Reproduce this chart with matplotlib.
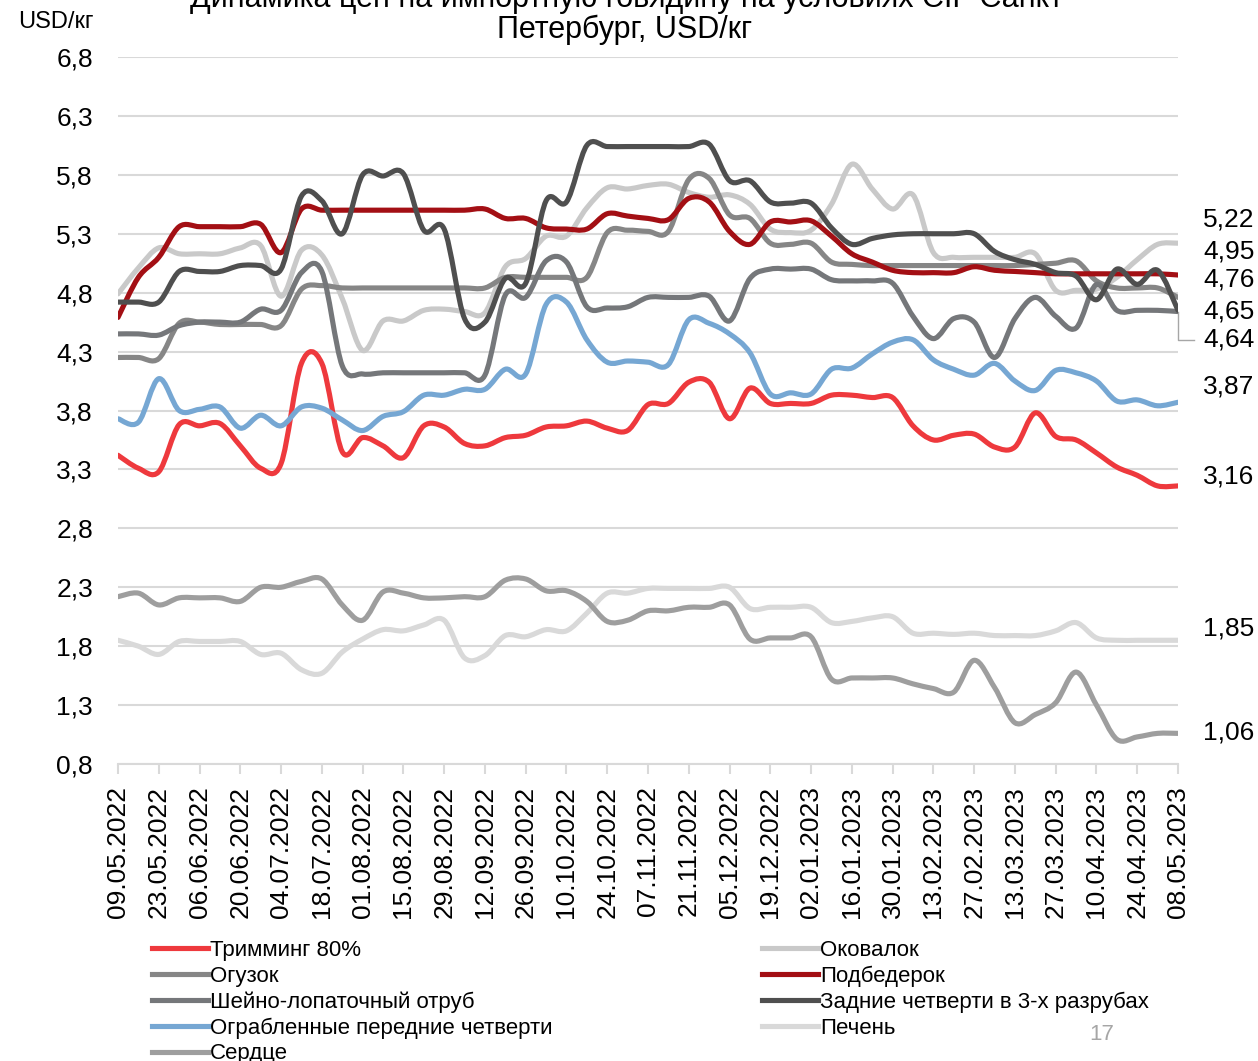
import numpy as np
import matplotlib
matplotlib.use("Agg")
import matplotlib.pyplot as plt
from matplotlib.path import Path
from matplotlib.patches import PathPatch
from matplotlib.lines import Line2D

plt.rcParams['font.family'] = ['Liberation Sans', 'DejaVu Sans']

# weekly prices, 09.05.2022 - 08.05.2023, USD/kg
trimming = [3.42, 3.31, 3.28, 3.68, 3.67, 3.69, 3.50, 3.31, 3.35, 4.20, 4.20, 3.45, 3.57, 3.50,
            3.40, 3.67, 3.66, 3.52, 3.50, 3.57, 3.59, 3.66, 3.67, 3.71, 3.65, 3.63, 3.85, 3.86,
            4.04, 4.04, 3.73, 3.99, 3.86, 3.86, 3.86, 3.93, 3.93, 3.91, 3.91, 3.67, 3.55, 3.59,
            3.60, 3.49, 3.49, 3.78, 3.58, 3.55, 3.44, 3.32, 3.25, 3.16, 3.16]
okovalok = [4.79, 5.01, 5.18, 5.13, 5.13, 5.13, 5.18, 5.20, 4.77, 5.16, 5.12, 4.75, 4.31, 4.56,
            4.56, 4.65, 4.66, 4.64, 4.63, 5.02, 5.09, 5.28, 5.28, 5.52, 5.69, 5.68, 5.71, 5.72,
            5.65, 5.61, 5.63, 5.55, 5.34, 5.31, 5.33, 5.55, 5.89, 5.68, 5.51, 5.63, 5.14, 5.10,
            5.10, 5.10, 5.10, 5.13, 4.82, 4.82, 4.83, 4.93, 5.08, 5.21, 5.22]
oguzok = [4.25, 4.25, 4.24, 4.54, 4.55, 4.53, 4.53, 4.53, 4.52, 4.83, 4.86, 4.84, 4.84, 4.84,
          4.84, 4.84, 4.84, 4.84, 4.84, 4.93, 4.93, 4.93, 4.93, 4.93, 5.31, 5.33, 5.32, 5.32,
          5.76, 5.77, 5.46, 5.43, 5.22, 5.21, 5.22, 5.06, 5.04, 5.03, 5.03, 5.03, 5.03, 5.03,
          5.03, 5.03, 5.03, 5.04, 5.05, 5.07, 4.90, 4.84, 4.84, 4.84, 4.76]
podbederok = [4.59, 4.93, 5.10, 5.36, 5.36, 5.36, 5.36, 5.38, 5.14, 5.51, 5.50, 5.50, 5.50, 5.50,
              5.50, 5.50, 5.50, 5.50, 5.51, 5.43, 5.43, 5.35, 5.34, 5.34, 5.47, 5.45, 5.43, 5.42,
              5.60, 5.57, 5.32, 5.21, 5.40, 5.40, 5.41, 5.28, 5.13, 5.06, 4.99, 4.97, 4.97, 4.97,
              5.02, 4.99, 4.98, 4.97, 4.96, 4.96, 4.96, 4.96, 4.96, 4.96, 4.95]
sheyno = [4.45, 4.45, 4.44, 4.52, 4.55, 4.55, 4.55, 4.66, 4.65, 4.97, 4.98, 4.18, 4.11, 4.12,
          4.12, 4.12, 4.12, 4.12, 4.10, 4.78, 4.76, 5.07, 5.06, 4.68, 4.67, 4.68, 4.76, 4.76,
          4.76, 4.77, 4.56, 4.92, 5.00, 5.00, 5.00, 4.91, 4.90, 4.90, 4.88, 4.60, 4.41, 4.58,
          4.55, 4.25, 4.58, 4.76, 4.60, 4.50, 4.87, 4.65, 4.65, 4.65, 4.64]
zadnie = [4.72, 4.72, 4.72, 4.98, 4.98, 4.98, 5.03, 5.03, 5.00, 5.62, 5.58, 5.30, 5.80, 5.79,
          5.81, 5.33, 5.34, 4.58, 4.55, 4.92, 4.88, 5.58, 5.57, 6.05, 6.04, 6.04, 6.04, 6.04,
          6.04, 6.06, 5.75, 5.75, 5.57, 5.56, 5.56, 5.35, 5.21, 5.26, 5.29, 5.30, 5.30, 5.30,
          5.30, 5.15, 5.08, 5.04, 4.97, 4.94, 4.74, 5.00, 4.87, 4.99, 4.65]
ograblennye = [3.73, 3.70, 4.07, 3.80, 3.81, 3.83, 3.65, 3.76, 3.67, 3.83, 3.82, 3.72, 3.63, 3.75,
               3.79, 3.93, 3.93, 3.98, 3.98, 4.15, 4.11, 4.70, 4.72, 4.40, 4.21, 4.22, 4.21, 4.19,
               4.57, 4.54, 4.45, 4.29, 3.94, 3.95, 3.94, 4.15, 4.16, 4.28, 4.38, 4.40, 4.23, 4.15,
               4.10, 4.20, 4.05, 3.97, 4.14, 4.12, 4.05, 3.88, 3.89, 3.84, 3.87]
pechen = [1.85, 1.80, 1.73, 1.84, 1.84, 1.84, 1.84, 1.73, 1.74, 1.60, 1.57, 1.75, 1.86, 1.94,
          1.93, 1.98, 2.02, 1.70, 1.72, 1.89, 1.88, 1.94, 1.93, 2.08, 2.25, 2.25, 2.29, 2.29,
          2.29, 2.29, 2.30, 2.12, 2.13, 2.13, 2.13, 2.00, 2.01, 2.04, 2.05, 1.91, 1.91, 1.90,
          1.91, 1.89, 1.89, 1.89, 1.93, 2.00, 1.87, 1.85, 1.85, 1.85, 1.85]
serdce = [2.22, 2.25, 2.15, 2.21, 2.21, 2.21, 2.18, 2.30, 2.30, 2.35, 2.37, 2.15, 2.02, 2.26,
          2.25, 2.21, 2.21, 2.22, 2.22, 2.36, 2.37, 2.27, 2.27, 2.18, 2.01, 2.02, 2.10, 2.10,
          2.13, 2.13, 2.15, 1.86, 1.87, 1.87, 1.88, 1.52, 1.53, 1.53, 1.53, 1.48, 1.44, 1.41,
          1.68, 1.45, 1.15, 1.22, 1.32, 1.58, 1.30, 1.01, 1.03, 1.06, 1.06]

date_labels = ['09.05.2022', '23.05.2022', '06.06.2022', '20.06.2022', '04.07.2022',
               '18.07.2022', '01.08.2022', '15.08.2022', '29.08.2022', '12.09.2022',
               '26.09.2022', '10.10.2022', '24.10.2022', '07.11.2022', '21.11.2022',
               '05.12.2022', '19.12.2022', '02.01.2023', '16.01.2023', '30.01.2023',
               '13.02.2023', '27.02.2023', '13.03.2023', '27.03.2023', '10.04.2023',
               '24.04.2023', '08.05.2023']

names = ['Тримминг 80%', 'Оковалок', 'Огузок', 'Подбедерок', 'Шейно-лопаточный отруб',
         'Задние четверти в 3-х разрубах', 'Ограбленные передние четверти', 'Печень', 'Сердце']
series = [trimming, okovalok, oguzok, podbederok, sheyno, zadnie, ograblennye, pechen, serdce]
colors = ['#EE393D', '#C9C9C9', '#868686', '#A30F14', '#75777A', '#4F4F4F', '#76A7D3',
          '#D9D9D9', '#9E9E9E']

# end labels: vertical shift of the label from the last point (data units)
label_shift = {'Оковалок': 0.20, 'Подбедерок': 0.20, 'Огузок': 0.15, 'Задние четверти в 3-х разрубах': -0.01,
               'Шейно-лопаточный отруб': -0.24, 'Ограбленные передние четверти': 0.13,
               'Тримминг 80%': 0.08, 'Печень': 0.10, 'Сердце': 0.01}


def smooth_path(x, y):
    # Excel-like smoothed line (Catmull-Rom as cubic Bezier)
    pts = np.column_stack([x, y])
    n = len(pts)
    verts = [pts[0]]
    codes = [Path.MOVETO]
    for i in range(n - 1):
        p0 = pts[max(i - 1, 0)]
        p1 = pts[i]
        p2 = pts[i + 1]
        p3 = pts[min(i + 2, n - 1)]
        verts += [p1 + (p2 - p0) / 6, p2 - (p3 - p1) / 6, p2]
        codes += [Path.CURVE4] * 3
    return Path(verts, codes)


W, H = 1258, 1061
fig = plt.figure(figsize=(W / 100, H / 100), dpi=100)
ax = fig.add_axes([118 / W, 1 - 764 / H, 1060 / W, 707 / H])

x = np.arange(len(trimming))
for name, vals, col in zip(names, series, colors):
    patch = PathPatch(smooth_path(x, np.array(vals)), fill=False, edgecolor=col, lw=3.7,
                      capstyle='round', joinstyle='round', zorder=3)
    ax.add_patch(patch)

ax.set_xlim(0, len(x) - 1)
ax.set_ylim(0.8, 6.8)
yt = np.arange(0.8, 6.81, 0.5)
ax.set_yticks(yt)
ax.set_yticklabels([f'{v:.1f}'.replace('.', ',') for v in yt], fontsize=19)
ax.tick_params(axis='y', length=0, pad=18)
ax.set_xticks(x[::2])
ax.set_xticklabels(date_labels, rotation=90, fontsize=19)
ax.tick_params(axis='x', length=7, color='#D9D9D9', width=1.5, pad=9)
ax.grid(axis='y', color='#D9D9D9', lw=1.5, zorder=0)
for s in ['top', 'right', 'left']:
    ax.spines[s].set_visible(False)
ax.spines['bottom'].set_color('#D9D9D9')
ax.spines['bottom'].set_linewidth(1.5)
ax.set_axisbelow(True)

# value labels at the right end
for name, vals in zip(names, series):
    v = vals[-1]
    ax.annotate(f'{v:.2f}'.replace('.', ','), xy=(x[-1], v + label_shift[name]),
                xytext=(1203 - 1178, 0), textcoords='offset pixels',
                ha='left', va='center', fontsize=19, annotation_clip=False)
# leader line for 4,64
v = sheyno[-1]
ax.plot([x[-1], x[-1], x[-1] + 0.8], [v, v - 0.24, v - 0.24], color='#A6A6A6', lw=1,
        clip_on=False, zorder=2)

fig.text(632 / W, 1 + 1 / H, 'Динамика цен на импортную говядину на условиях CIF Санкт-',
         ha='center', va='center', fontsize=22)
fig.text(625 / W, 1 - 30 / H, 'Петербург, USD/кг', ha='center', va='center', fontsize=22)
fig.text(18 / W, 1 - 22 / H, 'USD/кг', ha='left', va='center', fontsize=17)
fig.text(1102 / W, 1 - 1035 / H, '17', ha='center', va='center', fontsize=16, color='#A6A6A6')

handles = [Line2D([], [], color=c, lw=3.7) for c in colors]
left_idx = [0, 2, 4, 6, 8]
right_idx = [1, 3, 5, 7]
common = dict(frameon=False, fontsize=16, handlelength=2.5, handletextpad=0.1,
              labelspacing=0.21, borderpad=0, borderaxespad=0, loc='upper left')
fig.legend([handles[i] for i in left_idx], [names[i] for i in left_idx],
           bbox_to_anchor=(152 / W, 1 - 940 / H), **common)
fig.legend([handles[i] for i in right_idx], [names[i] for i in right_idx],
           bbox_to_anchor=(762 / W, 1 - 940 / H), **common)

fig.savefig('out.png', dpi=100)
